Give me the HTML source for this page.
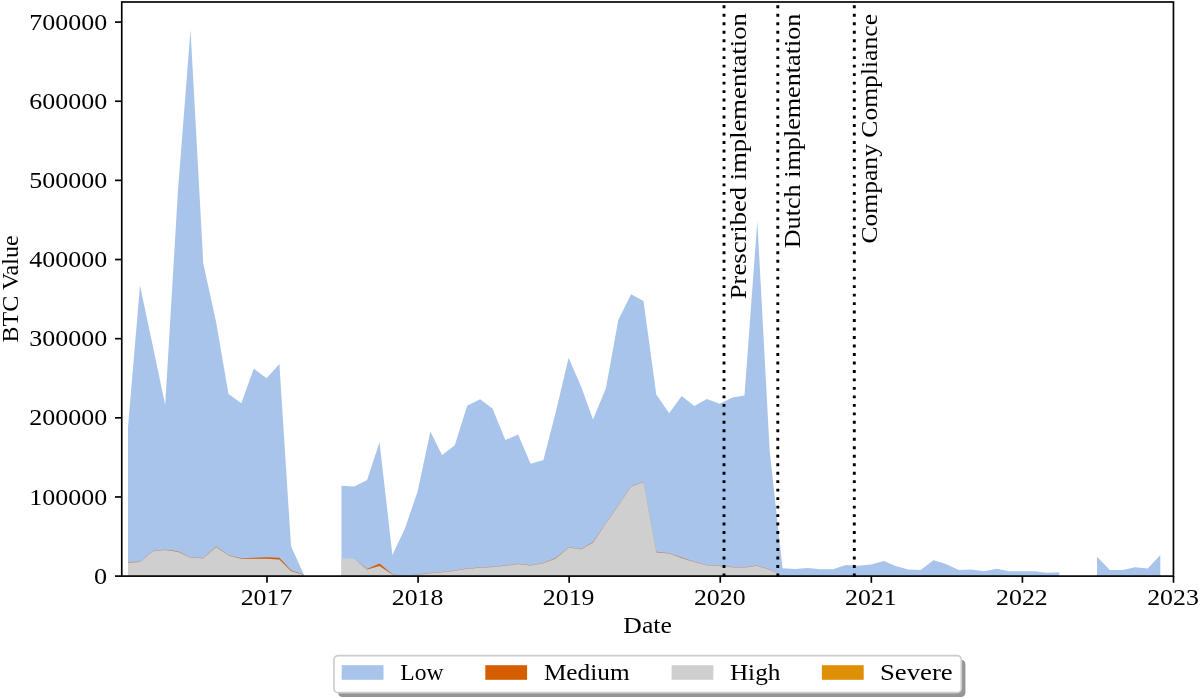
<!DOCTYPE html>
<html><head><meta charset="utf-8"><style>
html,body{margin:0;padding:0;background:#fff;width:1200px;height:699px;overflow:hidden}
svg{display:block;will-change:transform}
text{font-family:"Liberation Serif",serif}
</style></head><body>
<svg width="1200" height="699" viewBox="0 0 1200 699">
<rect width="1200" height="699" fill="#fff"/>
<g><polygon points="128.0,576.10 128.0,427.00 140.0,285.50 152.8,346.00 165.2,405.00 178.0,190.00 190.5,29.70 203.3,263.40 216.1,322.00 228.5,394.00 241.3,403.30 253.8,368.50 266.6,378.20 279.4,363.90 291.0,546.00 303.8,574.50 303.8,576.10" fill="#a8c4ea"/><polygon points="128.0,576.10 128.0,562.40 140.0,562.00 152.8,551.30 165.2,550.10 178.0,551.70 190.5,557.70 203.3,558.30 216.1,546.90 228.5,555.60 241.3,558.80 253.8,558.80 266.6,558.80 279.4,559.60 291.0,571.00 303.8,575.00 303.8,576.10" fill="#cfcfcf"/><polygon points="128.0,562.10 140.0,561.70 152.8,551.00 165.2,549.80 178.0,551.20 190.5,557.40 203.3,558.00 216.1,546.60 228.5,555.20 241.3,558.30 253.8,557.80 266.6,557.20 279.4,557.70 291.0,570.20 303.8,574.70 303.8,575.00 291.0,571.00 279.4,559.60 266.6,558.80 253.8,558.80 241.3,558.80 228.5,555.60 216.1,546.90 203.3,558.30 190.5,557.70 178.0,551.70 165.2,550.10 152.8,551.30 140.0,562.00 128.0,562.40" fill="#d55e00"/><polygon points="341.5,576.10 341.5,485.70 354.3,486.40 367.1,480.00 379.5,442.20 392.4,555.00 404.8,528.80 417.6,491.60 430.4,431.50 442.0,455.00 454.8,445.20 467.2,405.80 480.1,399.20 492.5,408.60 505.3,440.10 518.1,434.40 530.6,463.80 543.4,460.00 555.8,412.00 568.6,357.80 581.4,387.30 593.0,419.60 605.9,388.20 618.3,320.00 631.1,294.30 643.5,300.90 656.3,394.40 669.2,413.30 681.6,395.90 694.4,406.00 706.8,399.00 719.6,403.80 732.5,397.50 744.5,395.50 757.3,221.00 769.7,451.00 782.5,568.30 794.9,569.00 807.8,568.00 820.6,569.20 833.0,569.30 845.8,565.00 858.2,565.80 871.1,564.60 883.9,561.10 895.5,566.00 908.3,569.60 920.7,570.00 933.5,560.30 945.9,564.00 958.8,570.10 971.6,569.60 984.0,571.30 996.8,568.70 1009.2,571.20 1022.1,571.20 1034.9,571.20 1046.5,572.70 1059.3,572.20 1059.3,576.10" fill="#a8c4ea"/><polygon points="341.5,576.10 341.5,558.50 354.3,558.80 367.1,569.40 379.5,566.10 392.4,574.50 404.8,575.80 417.6,574.80 430.4,573.30 442.0,572.20 454.8,570.70 467.2,568.80 480.1,567.70 492.5,567.00 505.3,565.80 518.1,564.00 530.6,565.50 543.4,563.20 555.8,558.40 568.6,547.60 581.4,549.30 593.0,542.40 605.9,523.50 618.3,505.50 631.1,486.60 643.5,482.30 656.3,552.20 669.2,553.60 681.6,557.90 694.4,562.10 706.8,565.20 719.6,566.10 732.5,567.20 744.5,567.60 757.3,565.80 769.7,569.70 782.5,576.10 794.9,576.10 807.8,576.10 820.6,576.10 833.0,576.10 845.8,576.10 858.2,576.10 871.1,576.10 883.9,576.10 895.5,576.10 908.3,576.10 920.7,576.10 933.5,576.10 945.9,576.10 958.8,576.10 971.6,576.10 984.0,576.10 996.8,576.10 1009.2,576.10 1022.1,576.10 1034.9,576.10 1046.5,576.10 1059.3,576.10 1059.3,576.10" fill="#cfcfcf"/><polygon points="341.5,558.50 354.3,558.80 367.1,568.90 379.5,563.40 392.4,574.20 404.8,575.80 417.6,574.60 430.4,573.10 442.0,572.00 454.8,570.50 467.2,568.60 480.1,567.50 492.5,566.80 505.3,565.60 518.1,563.70 530.6,565.20 543.4,562.90 555.8,558.10 568.6,547.30 581.4,549.00 593.0,542.10 605.9,523.20 618.3,505.20 631.1,486.20 643.5,481.90 656.3,551.80 669.2,553.20 681.6,557.60 694.4,561.80 706.8,564.90 719.6,565.80 732.5,566.90 744.5,567.30 757.3,565.50 769.7,569.50 782.5,576.10 794.9,576.10 807.8,576.10 820.6,576.10 833.0,576.10 845.8,576.10 858.2,576.10 871.1,576.10 883.9,576.10 895.5,576.10 908.3,576.10 920.7,576.10 933.5,576.10 945.9,576.10 958.8,576.10 971.6,576.10 984.0,576.10 996.8,576.10 1009.2,576.10 1022.1,576.10 1034.9,576.10 1046.5,576.10 1059.3,576.10 1059.3,576.10 1046.5,576.10 1034.9,576.10 1022.1,576.10 1009.2,576.10 996.8,576.10 984.0,576.10 971.6,576.10 958.8,576.10 945.9,576.10 933.5,576.10 920.7,576.10 908.3,576.10 895.5,576.10 883.9,576.10 871.1,576.10 858.2,576.10 845.8,576.10 833.0,576.10 820.6,576.10 807.8,576.10 794.9,576.10 782.5,576.10 769.7,569.70 757.3,565.80 744.5,567.60 732.5,567.20 719.6,566.10 706.8,565.20 694.4,562.10 681.6,557.90 669.2,553.60 656.3,552.20 643.5,482.30 631.1,486.60 618.3,505.50 605.9,523.50 593.0,542.40 581.4,549.30 568.6,547.60 555.8,558.40 543.4,563.20 530.6,565.50 518.1,564.00 505.3,565.80 492.5,567.00 480.1,567.70 467.2,568.80 454.8,570.70 442.0,572.20 430.4,573.30 417.6,574.80 404.8,575.80 392.4,574.50 379.5,566.10 367.1,569.40 354.3,558.80 341.5,558.50" fill="#d55e00"/><polygon points="1097.0,576.10 1097.0,556.80 1109.8,570.00 1122.6,570.00 1135.0,567.30 1147.8,568.50 1160.3,555.00 1160.3,576.10" fill="#a8c4ea"/></g>
<g><line x1="724.0" y1="576.4" x2="724.0" y2="2.0" stroke="#000" stroke-width="2.9" stroke-dasharray="2.9 5.58"/><line x1="777.8" y1="576.4" x2="777.8" y2="2.0" stroke="#000" stroke-width="2.9" stroke-dasharray="2.9 5.58"/><line x1="854.3" y1="576.4" x2="854.3" y2="2.0" stroke="#000" stroke-width="2.9" stroke-dasharray="2.9 5.58"/></g>
<rect x="121.75" y="2.0" width="1051.70" height="574.10" fill="none" stroke="#000" stroke-width="1.67"/>
<g stroke="#000" stroke-width="1.67"><line x1="115.0" y1="576.10" x2="121.75" y2="576.10"/><line x1="115.0" y1="496.96" x2="121.75" y2="496.96"/><line x1="115.0" y1="417.81" x2="121.75" y2="417.81"/><line x1="115.0" y1="338.67" x2="121.75" y2="338.67"/><line x1="115.0" y1="259.53" x2="121.75" y2="259.53"/><line x1="115.0" y1="180.38" x2="121.75" y2="180.38"/><line x1="115.0" y1="101.24" x2="121.75" y2="101.24"/><line x1="115.0" y1="22.10" x2="121.75" y2="22.10"/><line x1="267.00" y1="576.1" x2="267.00" y2="582.80"/><line x1="418.08" y1="576.1" x2="418.08" y2="582.80"/><line x1="569.17" y1="576.1" x2="569.17" y2="582.80"/><line x1="720.25" y1="576.1" x2="720.25" y2="582.80"/><line x1="871.33" y1="576.1" x2="871.33" y2="582.80"/><line x1="1022.41" y1="576.1" x2="1022.41" y2="582.80"/><line x1="1173.50" y1="576.1" x2="1173.50" y2="582.80"/></g>
<g font-family="Liberation Serif" font-size="23" fill="#000"><text x="107.1" y="583.70" text-anchor="end" textLength="13.1" lengthAdjust="spacingAndGlyphs">0</text><text x="107.1" y="504.56" text-anchor="end" textLength="77.8" lengthAdjust="spacingAndGlyphs">100000</text><text x="107.1" y="425.41" text-anchor="end" textLength="77.8" lengthAdjust="spacingAndGlyphs">200000</text><text x="107.1" y="346.27" text-anchor="end" textLength="77.8" lengthAdjust="spacingAndGlyphs">300000</text><text x="107.1" y="267.13" text-anchor="end" textLength="77.8" lengthAdjust="spacingAndGlyphs">400000</text><text x="107.1" y="187.98" text-anchor="end" textLength="77.8" lengthAdjust="spacingAndGlyphs">500000</text><text x="107.1" y="108.84" text-anchor="end" textLength="77.8" lengthAdjust="spacingAndGlyphs">600000</text><text x="107.1" y="29.70" text-anchor="end" textLength="77.8" lengthAdjust="spacingAndGlyphs">700000</text><text x="266.50" y="605.4" text-anchor="middle" textLength="51.6" lengthAdjust="spacingAndGlyphs">2017</text><text x="417.58" y="605.4" text-anchor="middle" textLength="51.6" lengthAdjust="spacingAndGlyphs">2018</text><text x="568.67" y="605.4" text-anchor="middle" textLength="51.6" lengthAdjust="spacingAndGlyphs">2019</text><text x="719.75" y="605.4" text-anchor="middle" textLength="51.6" lengthAdjust="spacingAndGlyphs">2020</text><text x="870.83" y="605.4" text-anchor="middle" textLength="51.6" lengthAdjust="spacingAndGlyphs">2021</text><text x="1021.91" y="605.4" text-anchor="middle" textLength="51.6" lengthAdjust="spacingAndGlyphs">2022</text><text x="1173.00" y="605.4" text-anchor="middle" textLength="51.6" lengthAdjust="spacingAndGlyphs">2023</text><text x="647.6" y="633.2" text-anchor="middle" textLength="48.5" lengthAdjust="spacingAndGlyphs">Date</text><text transform="translate(18.4,288.9) rotate(-90)" x="0" y="0" text-anchor="middle" textLength="107" lengthAdjust="spacingAndGlyphs">BTC Value</text><text transform="translate(745.6,299.2) rotate(-90)" x="0" y="0" textLength="286.0" lengthAdjust="spacingAndGlyphs">Prescribed implementation</text><text transform="translate(800.2,248.3) rotate(-90)" x="0" y="0" textLength="234.7" lengthAdjust="spacingAndGlyphs">Dutch implementation</text><text transform="translate(876.9,243.6) rotate(-90)" x="0" y="0" textLength="229.6" lengthAdjust="spacingAndGlyphs">Company Compliance</text></g>
<g font-family="Liberation Serif" font-size="23"><rect x="338.1" y="659.8" width="627.3" height="37.1" rx="4.2" fill="#959595"/><rect x="334.0" y="655.6" width="627.3" height="37.1" rx="4.2" fill="#fff" stroke="#cccccc" stroke-width="1.67"/><rect x="341.7" y="665.2" width="41.8" height="14.6" fill="#a8c4ea"/><text x="400.25" y="680.1" textLength="43.2" lengthAdjust="spacingAndGlyphs">Low</text><rect x="485.3" y="665.2" width="41.8" height="14.6" fill="#d55e00"/><text x="543.9" y="680.1" textLength="85.7" lengthAdjust="spacingAndGlyphs">Medium</text><rect x="671.6" y="665.2" width="41.8" height="14.6" fill="#cfcfcf"/><text x="729.9" y="680.1" textLength="50.5" lengthAdjust="spacingAndGlyphs">High</text><rect x="821.9" y="665.2" width="41.8" height="14.6" fill="#de8f05"/><text x="880.0" y="680.1" textLength="72.7" lengthAdjust="spacingAndGlyphs">Severe</text></g>
</svg>
</body></html>
